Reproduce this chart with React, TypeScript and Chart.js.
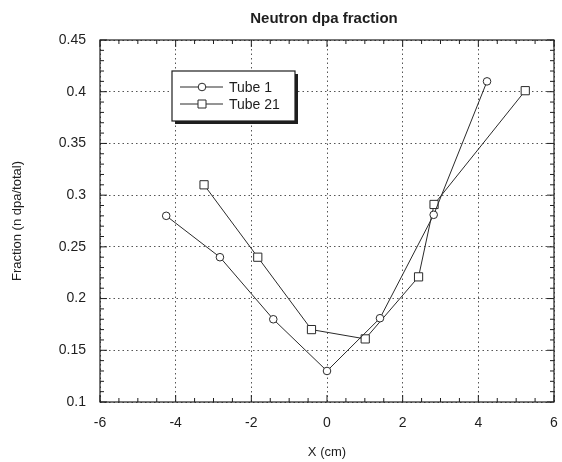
import { useEffect, useRef } from 'react';
import { Chart, registerables } from 'chart.js';

Chart.register(...registerables);

const chartTitle = 'Neutron dpa fraction';
const xTitle = 'X (cm)';
const yTitle = 'Fraction (n dpa/total)';

const tube1Label = 'Tube 1';
const tube1X = [-4.25, -2.83, -1.42, 0, 1.4, 2.82, 4.23];
const tube1Y = [0.28, 0.24, 0.18, 0.13, 0.181, 0.281, 0.41];

const tube21Label = 'Tube 21';
const tube21X = [-3.25, -1.83, -0.41, 1.01, 2.42, 2.83, 5.24];
const tube21Y = [0.31, 0.24, 0.17, 0.161, 0.221, 0.291, 0.401];

const xTicks = [-6, -4, -2, 0, 2, 4, 6];
const xTickLabels = ['-6', '-4', '-2', '0', '2', '4', '6'];
const yTicks = [0.1, 0.15, 0.2, 0.25, 0.3, 0.35, 0.4, 0.45];
const yTickLabels = ['0.1', '0.15', '0.2', '0.25', '0.3', '0.35', '0.4', '0.45'];
const xMinorStep = 0.5;
const yMinorStep = 0.01;

const FONT = '"Liberation Sans", Arial, Helvetica, sans-serif';
const INK = '#1e1e1e';

// Solid frame around the plot with inward ticks on all four sides
const framePlugin = {
  id: 'frame',
  beforeDatasetsDraw(chart: any) {
    const { ctx, chartArea: a, scales } = chart;
    const xs = scales.x;
    const ys = scales.y;
    ctx.save();
    ctx.strokeStyle = INK;
    ctx.lineWidth = 1.2;
    ctx.strokeRect(a.left, a.top, a.right - a.left, a.bottom - a.top);
    ctx.lineWidth = 1;
    ctx.beginPath();
    const nx = Math.round((xs.max - xs.min) / xMinorStep);
    for (let i = 0; i <= nx; i++) {
      const v = xs.min + i * xMinorStep;
      const px = xs.getPixelForValue(v);
      const len = Math.abs(v / 2 - Math.round(v / 2)) < 1e-6 ? 7 : 4;
      ctx.moveTo(px, a.bottom);
      ctx.lineTo(px, a.bottom - len);
      ctx.moveTo(px, a.top);
      ctx.lineTo(px, a.top + len);
    }
    const ny = Math.round((ys.max - ys.min) / yMinorStep);
    for (let i = 0; i <= ny; i++) {
      const py = ys.getPixelForValue(ys.min + i * yMinorStep);
      const len = i % 5 === 0 ? 7 : 4;
      ctx.moveTo(a.left, py);
      ctx.lineTo(a.left + len, py);
      ctx.moveTo(a.right, py);
      ctx.lineTo(a.right - len, py);
    }
    ctx.stroke();
    ctx.restore();
  },
};

// Boxed legend with drop shadow inside the plot, plus the chart heading
const legendPlugin = {
  id: 'boxLegend',
  afterDatasetsDraw(chart: any) {
    const { ctx, chartArea: a } = chart;
    const bx = a.left + 72;
    const by = a.top + 31;
    const bw = 123;
    const bh = 50;
    ctx.save();
    ctx.fillStyle = INK;
    ctx.fillRect(bx + 3, by + 3, bw, bh);
    ctx.fillStyle = '#ffffff';
    ctx.fillRect(bx, by, bw, bh);
    ctx.strokeStyle = INK;
    ctx.lineWidth = 1.2;
    ctx.strokeRect(bx, by, bw, bh);

    chart.data.datasets.forEach((ds: any, i: number) => {
      const cy = by + 16 + i * 17;
      ctx.strokeStyle = ds.borderColor;
      ctx.lineWidth = 1;
      ctx.beginPath();
      ctx.moveTo(bx + 8, cy);
      ctx.lineTo(bx + 51, cy);
      ctx.stroke();
      ctx.fillStyle = '#ffffff';
      ctx.beginPath();
      if (ds.pointStyle === 'rect') {
        ctx.rect(bx + 30 - 4, cy - 4, 8, 8);
      } else {
        ctx.arc(bx + 30, cy, ds.pointRadius, 0, Math.PI * 2);
      }
      ctx.fill();
      ctx.stroke();
      ctx.fillStyle = INK;
      ctx.font = `14px ${FONT}`;
      ctx.textAlign = 'left';
      ctx.textBaseline = 'middle';
      ctx.fillText(ds.label, bx + 57, cy + 1);
    });

    ctx.font = `bold 15px ${FONT}`;
    ctx.textAlign = 'center';
    ctx.textBaseline = 'middle';
    ctx.fillText(chartTitle, (a.left + a.right) / 2 - 3, 19);
    ctx.restore();
  },
};

export default function App() {
  const canvasRef = useRef<HTMLCanvasElement | null>(null);

  useEffect(() => {
    const canvas = canvasRef.current;
    if (!canvas) return;
    Chart.defaults.font.family = FONT;
    Chart.defaults.color = INK;

    const chart = new Chart(canvas, {
      type: 'line',
      data: {
        datasets: [
          {
            label: tube1Label,
            data: tube1X.map((x, i) => ({ x, y: tube1Y[i] })),
            borderColor: '#2a2a2a',
            borderWidth: 1,
            pointStyle: 'circle',
            pointRadius: 3.8,
            pointBorderWidth: 1,
            pointBackgroundColor: '#ffffff',
            pointBorderColor: '#2a2a2a',
            tension: 0,
          },
          {
            label: tube21Label,
            data: tube21X.map((x, i) => ({ x, y: tube21Y[i] })),
            borderColor: '#2a2a2a',
            borderWidth: 1,
            pointStyle: 'rect',
            pointRadius: 5.8,
            pointBorderWidth: 1,
            pointBackgroundColor: '#ffffff',
            pointBorderColor: '#2a2a2a',
            tension: 0,
          },
        ],
      },
      options: {
        responsive: false,
        animation: false,
        devicePixelRatio: 1,
        layout: { padding: { top: 40, right: 8, left: 0, bottom: 0 } },
        plugins: {
          legend: { display: false },
          title: { display: false },
          tooltip: { enabled: false },
        },
        scales: {
          x: {
            type: 'linear',
            min: -6,
            max: 6,
            afterBuildTicks: (scale: any) => {
              scale.ticks = xTicks.map((value) => ({ value }));
            },
            afterFit: (scale: any) => {
              scale.height = 60;
              scale.paddingLeft = 0;
              scale.paddingRight = 0;
            },
            ticks: {
              callback: (_v: any, i: number) => xTickLabels[i],
              font: { size: 14 },
              color: INK,
              padding: 13,
              maxRotation: 0,
            },
            grid: {
              color: '#555555',
              lineWidth: 1,
              drawTicks: false,
            },
            border: { display: false, dash: [1.5, 3] },
            title: {
              display: true,
              text: xTitle,
              font: { size: 13 },
              color: INK,
              padding: { top: 0, bottom: 2 },
            },
          },
          y: {
            type: 'linear',
            min: 0.1,
            max: 0.45,
            afterBuildTicks: (scale: any) => {
              scale.ticks = yTicks.map((value) => ({ value }));
            },
            afterFit: (scale: any) => {
              scale.width = 100;
              scale.paddingTop = 0;
              scale.paddingBottom = 0;
            },
            ticks: {
              callback: (_v: any, i: number) => yTickLabels[i],
              font: { size: 14 },
              color: INK,
              padding: 14,
            },
            grid: {
              color: '#555555',
              lineWidth: 1,
              drawTicks: false,
            },
            border: { display: false, dash: [1.5, 3] },
            title: {
              display: true,
              text: yTitle,
              font: { size: 13 },
              color: INK,
              padding: { top: 10, bottom: 0 },
            },
          },
        },
      },
      plugins: [framePlugin, legendPlugin],
    });

    return () => chart.destroy();
  }, []);

  return (
    <div style={{ position: 'fixed', left: 0, top: 0, width: 562, height: 462, background: '#ffffff' }}>
      <canvas ref={canvasRef} width={562} height={462} />
    </div>
  );
}
